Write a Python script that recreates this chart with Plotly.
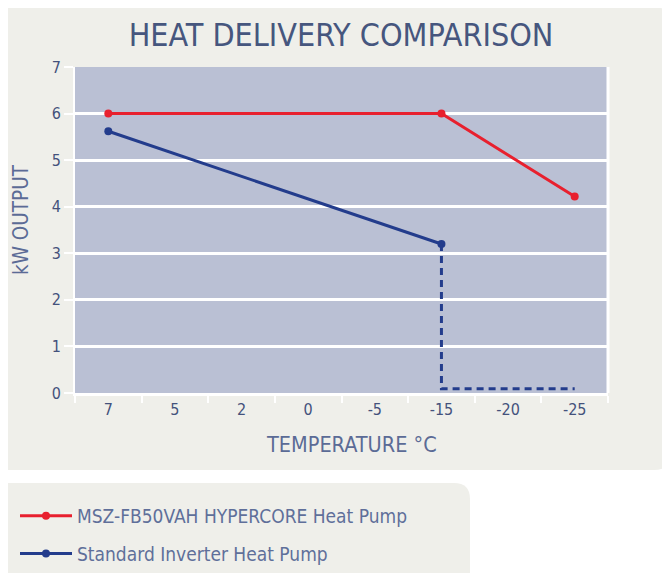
import plotly.graph_objects as go

# ---- data ----
temps = ["7", "5", "2", "0", "-5", "-15", "-20", "-25"]
hyper_x = ["7", "-15", "-25"]
hyper_y = [6.0, 6.0, 4.22]
std_x = ["7", "-15"]
std_y = [5.62, 3.2]
std_cut_x = ["-15", "-15", "-25"]
std_cut_y = [3.2, 0.09, 0.09]

W, H = 670, 573
OFF = 8  # page offset of the figure inside the window
RED = "#E8202E"
BLUE = "#233C8C"
TXT = "#5B6B96"
TICK = "#44527C"
PANEL = "#EFEFEA"
PLOTBG = "#BAC0D4"
FONT = "Liberation Sans Narrow, DejaVu Sans Condensed, Roboto, sans-serif"

def px(x):
    return (x - OFF) / W

def py(y):
    return 1 - (y - OFF) / H

def rounded(x0, y0, x1, y1, r):
    rx, ry = r / W, r / H
    X0, X1 = px(x0), px(x1)
    Y0, Y1 = py(y0), py(y1)  # Y0 top (larger), Y1 bottom
    return (f"M {X0+rx},{Y0} L {X1-rx},{Y0} Q {X1},{Y0} {X1},{Y0-ry} "
            f"L {X1},{Y1+ry} Q {X1},{Y1} {X1-rx},{Y1} "
            f"L {X0+rx},{Y1} Q {X0},{Y1} {X0},{Y1+ry} "
            f"L {X0},{Y0-ry} Q {X0},{Y0} {X0+rx},{Y0} Z")

fig = go.Figure()
fig.add_trace(go.Scatter(
    x=hyper_x, y=hyper_y, mode="lines+markers",
    name="MSZ-FB50VAH HYPERCORE Heat Pump",
    line=dict(color=RED, width=3), marker=dict(color=RED, size=8),
    legendgroup="a"))
fig.add_trace(go.Scatter(
    x=std_x, y=std_y, mode="lines+markers",
    name="Standard Inverter Heat Pump",
    line=dict(color=BLUE, width=3), marker=dict(color=BLUE, size=8),
    legendgroup="b"))
fig.add_trace(go.Scatter(
    x=std_cut_x, y=std_cut_y, mode="lines",
    line=dict(color=BLUE, width=3, dash="7px,5px"),
    showlegend=False, hoverinfo="skip"))

shapes = [
    dict(type="path", path=rounded(-10, 7, 670, 470, 16), xref="paper", yref="paper",
         fillcolor=PANEL, line=dict(width=0), layer="below"),
    dict(type="path", path=rounded(-20, 483, 470, 620, 16), xref="paper", yref="paper",
         fillcolor=PANEL, line=dict(width=0), layer="below"),
    # plot area background
    dict(type="rect", xref="paper", yref="paper", x0=px(75), x1=px(608),
         y0=py(393), y1=py(67), fillcolor=PLOTBG, line=dict(width=0), layer="below"),
    # right white border of plot
    dict(type="line", xref="paper", yref="paper", x0=px(608), x1=px(608),
         y0=py(393), y1=py(67), line=dict(color="white", width=3), layer="below"),
]

annotations = [
    dict(text="TEMPERATURE °C", xref="paper", yref="paper", x=px(351), y=py(444),
         xanchor="center", yanchor="middle", showarrow=False,
         font=dict(size=21.5, color=TXT, family=FONT)),
    dict(text="kW OUTPUT", xref="paper", yref="paper", x=px(21), y=py(220),
         xanchor="center", yanchor="middle", showarrow=False, textangle=-90,
         font=dict(size=20.5, color=TXT, family=FONT)),
]

fig.update_layout(
    width=W, height=H,
    margin=dict(l=0, r=0, t=0, b=0, autoexpand=False),
    paper_bgcolor="white",
    plot_bgcolor="rgba(0,0,0,0)",
    font=dict(family=FONT, color=TXT, size=17),
    title=dict(text="HEAT DELIVERY COMPARISON", x=px(341), xanchor="center",
               y=py(35), yanchor="middle",
               font=dict(family=FONT, size=32, color="#46567E")),
    shapes=shapes,
    annotations=annotations,
    xaxis=dict(
        domain=[px(75), px(608)],
        type="category", categoryorder="array", categoryarray=temps,
        range=[-0.5, 7.5],
        tickmode="array", tickvals=temps, ticktext=temps,
        tickson="boundaries",
        ticks="outside", ticklen=7, tickwidth=2, tickcolor="white",
        showgrid=False, zeroline=False,
        showline=True, linecolor="white", linewidth=3,
        tickfont=dict(size=16, color=TICK),
        automargin=False,
        fixedrange=True),
    yaxis=dict(
        domain=[py(393), py(67)],
        range=[0, 7], dtick=1,
        ticks="outside", ticklen=9, tickwidth=2, tickcolor="white",
        showgrid=True, gridcolor="white", gridwidth=3,
        zeroline=False, showline=True, linecolor="white", linewidth=2,
        tickfont=dict(size=16, color=TICK),
        automargin=False,
        fixedrange=True),
    legend=dict(
        x=px(15), y=py(497), xanchor="left", yanchor="top",
        bgcolor="rgba(0,0,0,0)", font=dict(size=19, color="#5F6F9A"),
        traceorder="grouped", tracegroupgap=10, itemwidth=52),
    showlegend=True,
)

fig.write_html("out.html")
